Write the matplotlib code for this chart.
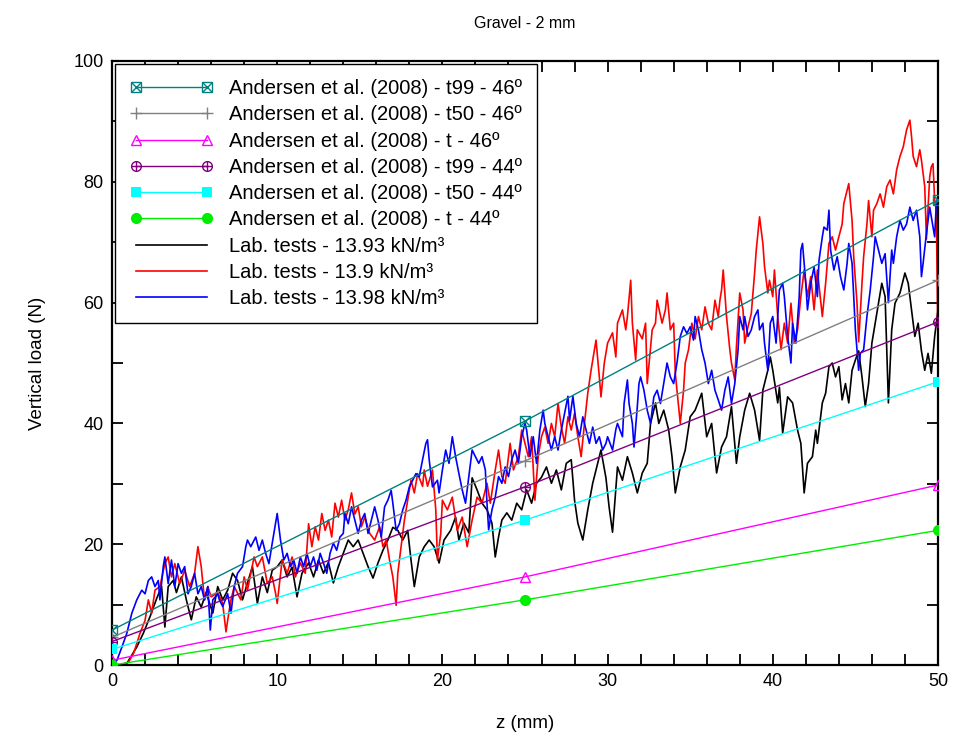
import matplotlib
matplotlib.use("Agg")
import matplotlib.pyplot as plt
from matplotlib.ticker import MultipleLocator
from matplotlib.legend_handler import HandlerTuple

plt.rcParams['font.family'] = ['Liberation Sans', 'DejaVu Sans']

# Andersen et al. (2008) curves, values at z = 0, 25, 50 mm
z_model = [0, 25, 50]
t99_46 = [5.8, 40.4, 77.0]
t50_46 = [4.6, 33.8, 63.7]
t_46 = [0.8, 14.6, 29.8]
t99_44 = [3.9, 29.5, 56.8]
t50_44 = [2.6, 24.0, 46.9]
t_44 = [0.0, 10.8, 22.3]

# Lab test - 13.93 kN/m3 (black)
z_black = [0, 0.5, 0.9, 1.5, 1.9, 2.3, 2.7, 3.0, 3.2, 3.4, 3.7, 3.9, 4.2, 4.5, 4.8, 5.1, 5.4, 5.7,
           6.1, 6.4, 6.7, 7.0, 7.3, 7.6, 7.9, 8.2, 8.5, 8.8, 9.1, 9.4, 9.7, 10.0,
           10.3, 10.6, 10.9, 11.2, 11.5, 11.9, 12.2, 12.5, 12.8, 13.1, 13.4, 13.7, 14.0, 14.3,
           14.6, 14.9, 15.2, 15.5, 15.8, 16.1, 16.4, 16.7, 17.0, 17.3, 17.6, 17.9, 18.1, 18.3,
           18.6, 18.9, 19.2, 19.5, 19.8, 20.1, 20.5, 20.8, 21.0, 21.3, 21.6, 21.8, 22.1, 22.4,
           22.7, 23.0, 23.2, 23.4, 23.6, 23.9, 24.2, 24.5, 24.8, 25.1, 25.4, 25.7, 26.0, 26.3,
           26.6, 26.9, 27.2, 27.5, 27.8, 28.0, 28.2, 28.5, 28.8, 29.1, 29.3, 29.6, 29.9, 30.1,
           30.3, 30.6, 30.9, 31.2, 31.5, 31.8, 32.1, 32.4, 32.6, 32.9, 33.1, 33.4, 33.7, 33.9,
           34.1, 34.4, 34.7, 35.0, 35.3, 35.7, 36.0, 36.3, 36.6, 36.9, 37.2, 37.5, 37.8, 38.0,
           38.3, 38.6, 38.9, 39.2, 39.4, 39.7, 39.85, 40.0, 40.3, 40.4, 40.6, 40.9, 41.2, 41.5,
           41.7, 41.9, 42.1, 42.4, 42.6, 42.7, 43.0, 43.2, 43.4, 43.6, 43.8, 44.0, 44.2, 44.4,
           44.6, 44.8, 45.0, 45.2, 45.4, 45.6, 45.8, 46.0, 46.2, 46.4, 46.6, 46.8, 47.0, 47.2,
           47.4, 47.7, 48.0, 48.2, 48.4, 48.6, 48.8, 49.0, 49.2, 49.4, 49.6, 49.8, 50.0]
f_black = [0, 0, 0.3, 3, 5.3, 8, 11, 13, 6.3, 13, 14, 12, 14.6, 10.8, 7.5, 11.3, 9.6, 12,
           8.6, 13, 10.8, 12.4, 15.2, 14, 10.8, 13.6, 16.3, 10.2, 14.6, 12, 15.7, 16.3,
           17.4, 14.6, 16.2, 11.3, 15.2, 16.9, 14.6, 17.4, 15.2, 17, 13.6, 16.3, 18.5, 20.7,
           19.6, 20.7, 18.5, 16.3, 14.4, 16.9, 19, 20.7, 22.8, 22.3, 20.7, 22.3, 17.4, 13,
           17.9, 19.6, 20.7, 19.6, 16.9, 20.7, 22.3, 24.5, 20.7, 23.5, 21.9, 31, 29, 26.8,
           25.7, 23.5, 17.9, 21.2, 24, 25.2, 24, 26.8, 25.7, 29, 26.8, 30.1, 31.1, 32.8,
           30.1, 32.3, 29, 33.4, 34, 27.3, 23.5, 20.7, 25.7, 30.1, 32.3, 35.6, 31, 26,
           22, 32.8, 30.6, 34.5, 31.8, 28.5, 31.8, 33.4, 40, 43.4, 40, 42.2, 38.9, 34.5,
           28.5, 32.8, 35.6, 41.1, 42.2, 45, 37.8, 40, 31.8, 36.1, 37.8, 42.8, 33.4, 37.8,
           42.2, 45, 42.2, 37.2, 45.5, 48.8, 51, 48.8, 43.4, 46, 38.4, 44.4, 43.4, 38.9,
           36.7, 28.5, 33.4, 34.5, 38.9, 36.7, 43.4, 45, 49.4, 50, 47.7, 49.4, 43.9, 46.6,
           43.4, 48.8, 50.5, 52, 47.7, 42.8, 46.6, 53.3, 56.6, 59.9, 63.2, 61, 43.4, 55.5,
           59.9, 61.6, 64.9, 63.2, 58.8, 54.4, 56.6, 52, 48.8, 51.6, 48.3, 54.4, 58.8]

# Lab test - 13.9 kN/m3 (red)
z_red = [0, 0.5, 1.0, 1.3, 1.7, 2.0, 2.2, 2.4, 2.6, 2.9, 3.2, 3.4, 3.6, 3.8, 4.1, 4.4, 4.7, 5.0,
         5.2, 5.4, 5.6, 5.8, 6.0, 6.4, 6.7, 6.9, 7.0, 7.2, 7.4, 7.8, 8.0, 8.2, 8.6, 8.8, 9.1,
         9.4, 9.7, 9.9, 10.0, 10.3, 10.6, 10.9, 11.1, 11.4, 11.7, 11.9, 12.1, 12.3, 12.5, 12.7,
         12.9, 13.1, 13.3, 13.5, 13.7, 13.9, 14.1, 14.3, 14.5, 14.7, 14.9, 15.1, 15.3, 15.6,
         15.9, 16.2, 16.4, 16.6, 16.8, 17.0, 17.2, 17.3, 17.5, 17.7, 17.9, 18.1, 18.3, 18.5,
         18.8, 18.9, 19.1, 19.4, 19.6, 19.7, 19.9, 20.0, 20.3, 20.6, 20.9, 21.2, 21.5, 21.8,
         22.1, 22.4, 22.7, 22.9, 23.2, 23.4, 23.6, 23.8, 24.1, 24.3, 24.6, 24.8, 25.0, 25.2,
         25.4, 25.6, 25.8, 26.0, 26.2, 26.4, 26.6, 26.8, 27.0, 27.2, 27.4, 27.6, 27.8, 28.0,
         28.2, 28.4, 28.6, 28.8, 29.0, 29.2, 29.3, 29.5, 29.6, 29.8, 30.0, 30.3, 30.5, 30.6,
         30.9, 31.1, 31.2, 31.4, 31.5, 31.7, 31.8, 32.1, 32.3, 32.4, 32.7, 32.9, 33.0, 33.3,
         33.5, 33.6, 33.8, 34.0, 34.1, 34.3, 34.4, 34.6, 34.7, 34.9, 35.1, 35.3, 35.5, 35.7,
         35.9, 36.1, 36.3, 36.5, 36.7, 36.8, 36.9, 37.0, 37.2, 37.4, 37.5, 37.7, 37.8, 38.0,
         38.2, 38.3, 38.5, 38.7, 38.9, 39.0, 39.2, 39.4, 39.5, 39.7, 39.8, 40.0, 40.1, 40.3,
         40.5, 40.7, 40.9, 41.1, 41.3, 41.5, 41.7, 41.9, 42.1, 42.3, 42.5, 42.7, 43.0, 43.2,
         43.4, 43.6, 43.8, 44.0, 44.2, 44.3, 44.5, 44.6, 44.8, 44.9, 45.1, 45.2, 45.4, 45.5,
         45.7, 45.8, 46.0, 46.1, 46.3, 46.5, 46.7, 46.9, 47.1, 47.3, 47.5, 47.7, 47.9, 48.1,
         48.3, 48.4, 48.5, 48.7, 48.9, 49.0, 49.2, 49.3, 49.5, 49.6, 49.7, 49.8, 49.9, 50.0]
f_red = [0, 0, 0.5, 1.9, 5.3, 7.4, 10.8, 8.6, 12.4, 13, 16.8, 17.9, 14.6, 16.8, 13.5, 15.7, 13, 15.2,
         19.6, 16.3, 10.8, 13, 11.3, 12, 10.2, 5.5, 7.4, 10.8, 13, 10.8, 14.6, 12.4, 17.9, 16.3, 17.9,
         13.5, 14.6, 11.9, 10.2, 17.4, 15.2, 17.9, 14.6, 16.9, 15.2, 23.4, 19.6, 22.9, 20.7, 25.1,
         22.3, 24, 21.2, 26.8, 24.5, 27.3, 24, 25.7, 28.5, 25, 26.2, 22.9, 24.5, 21.8,
         20.7, 22.9, 19.6, 20.7, 17.4, 14.6, 9.9, 15.2, 19.6, 24, 27.3, 30.6, 28.5, 31.7,
         29.6, 32.3, 29.6, 32.3, 25.7, 17.4, 21.8, 27.3, 25.7, 27.8, 22.3, 24.5, 19.6, 24,
         27.8, 26.8, 30.1, 26.8, 32.3, 35.6, 31.2, 30.1, 36.7, 32.3, 34.5, 38.9, 36.7, 34.5,
         37.8, 27.3, 34.5, 37.8, 39.4, 36.7, 40, 37.8, 43.3, 39.4, 36.7, 41.1, 38.9, 41.7,
         37.8, 34.5, 40, 45, 48.8, 52.2, 53.8, 47.7, 44.4, 50, 53.3, 55, 51, 56.6,
         58.8, 55.5, 57.7, 63.7, 56.6, 50.5, 55.5, 54, 56.6, 46.6, 55.5, 56.6, 60.4, 56.6,
         58.8, 61.6, 55.5, 56.6, 48.3, 42.8, 40, 45.5, 50, 52.2, 56.6, 54, 57.7, 55.5,
         59.3, 56.6, 55.5, 60.4, 57.7, 60.4, 62.1, 65.4, 57.7, 52.2, 50, 47.2, 52.7, 61.6,
         58.8, 53.3, 56, 58.2, 64.9, 68.7, 74.2, 69.8, 66, 61.6, 63.7, 61, 65.4, 57.7,
         52.2, 56.6, 53.3, 59.9, 53.3, 55.5, 61, 65.4, 61, 64.3, 58.8, 65.4, 57.7, 63.2,
         69.8, 70.9, 68.7, 70.9, 73, 76.4, 78.6, 79.7, 73.6, 67.6, 59.9, 53.5, 63.2, 67.6,
         73, 76.9, 70.9, 75.3, 76.4, 78, 75.8, 79.2, 80.3, 78, 82, 84.2, 85.8, 88.6,
         90.2, 87.5, 84.2, 82.5, 85.3, 83.6, 79.2, 70.5, 80.8, 82.5, 83, 76.9, 75.3, 53]

# Lab test - 13.98 kN/m3 (blue)
z_blue = [0, 0.3, 0.6, 0.9, 1.2, 1.5, 1.8, 2.0, 2.2, 2.4, 2.6, 2.8, 2.9, 3.1, 3.2, 3.4, 3.6, 3.8,
          4.0, 4.2, 4.4, 4.6, 4.8, 5.0, 5.2, 5.4, 5.6, 5.8, 5.95, 6.1, 6.4, 6.5, 6.7, 7.0, 7.2,
          7.4, 7.6, 7.9, 8.1, 8.2, 8.4, 8.7, 8.9, 9.1, 9.3, 9.5, 9.7, 9.9, 10.0, 10.2, 10.4,
          10.6, 10.8, 11.0, 11.2, 11.4, 11.6, 11.8, 12.0, 12.2, 12.4, 12.6, 12.8, 13.0, 13.2,
          13.4, 13.6, 13.8, 14.0, 14.1, 14.3, 14.5, 14.7, 14.9, 15.1, 15.3, 15.5, 15.7, 15.9,
          16.1, 16.3, 16.5, 16.7, 16.9, 17.0, 17.2, 17.4, 17.6, 17.8, 18.0, 18.2, 18.4, 18.6,
          18.8, 19.0, 19.1, 19.2, 19.4, 19.7, 19.8, 20.0, 20.2, 20.4, 20.6, 20.8, 21.0, 21.2,
          21.4, 21.6, 21.8, 22.0, 22.2, 22.4, 22.6, 22.7, 22.8, 23.0, 23.2, 23.4, 23.6, 23.8,
          24.0, 24.2, 24.4, 24.6, 24.8, 25.0, 25.1, 25.3, 25.5, 25.7, 25.9, 26.1, 26.2, 26.4,
          26.6, 26.8, 27.0, 27.2, 27.4, 27.6, 27.7, 27.9, 28.1, 28.3, 28.5, 28.7, 28.9, 29.1,
          29.3, 29.5, 29.7, 29.9, 30.0, 30.3, 30.5, 30.6, 30.9, 31.0, 31.2, 31.3, 31.5, 31.6,
          31.8, 31.9, 32.0, 32.2, 32.4, 32.6, 32.8, 33.0, 33.2, 33.4, 33.6, 33.8, 34.0, 34.2,
          34.4, 34.6, 34.8, 35.0, 35.2, 35.3, 35.5, 35.7, 35.9, 36.1, 36.3, 36.5, 36.7, 36.9,
          37.1, 37.3, 37.5, 37.7, 37.9, 38.0, 38.2, 38.3, 38.5, 38.7, 38.9, 39.1, 39.2, 39.4,
          39.5, 39.7, 39.85, 40.0, 40.2, 40.4, 40.6, 40.7, 40.9, 41.1, 41.2, 41.4, 41.6, 41.7,
          41.8, 42.0, 42.1, 42.3, 42.5, 42.7, 42.8, 43.0, 43.1, 43.3, 43.4, 43.5, 43.7, 43.9,
          44.1, 44.3, 44.5, 44.6, 44.8, 44.9, 45.0, 45.1, 45.2, 45.3, 45.5, 45.7, 45.9, 46.1,
          46.2, 46.4, 46.6, 46.8, 47.0, 47.2, 47.3, 47.5, 47.7, 47.9, 48.1, 48.3, 48.5, 48.7,
          48.9, 49.0, 49.1, 49.3, 49.5, 49.6, 49.8, 49.9, 50.0]
f_blue = [0, 0.8, 3, 5.3, 8.6, 10.8, 12.4, 11.8, 14, 14.6, 13, 14, 10.8, 16.3, 17.9, 13.5, 17.4, 13,
          16.8, 15.2, 16.3, 11.8, 13, 15.2, 11.8, 13, 10.8, 13, 5.8, 10.8, 11.8, 10.8, 9.7, 11.8, 8.6,
          13, 15.2, 16.3, 19.6, 20.7, 19.6, 21.2, 19, 20.7, 18.5, 16.8, 20.2, 23.4, 25.1, 20.7, 17.4,
          18.5, 16.3, 17.4, 15.2, 17.9, 16.3, 18.5, 16.3, 17.9, 15.7, 18.5, 16.9, 15.2, 18.5,
          20.2, 19, 21.2, 21.8, 25.1, 23.4, 26.2, 24, 21.8, 24, 25.1, 21.8, 24, 26.2,
          24, 21.2, 26.2, 27.3, 28.9, 26.8, 22.3, 23.4, 25.7, 27.3, 29.5, 30.6, 31.7, 31.2,
          34, 36.7, 37.3, 34, 29.5, 30.6, 28.5, 32.3, 35.6, 33.4, 37.8, 34.5, 31.7, 29,
          26.8, 31.2, 35.6, 34.5, 33.4, 34.5, 32.3, 26.8, 22.4, 25.7, 27.8, 31.2, 30.1, 32.8,
          31.2, 34, 35.6, 33.4, 37.8, 40, 38.9, 34.5, 37.8, 33.4, 38.9, 42.2, 40, 37.8,
          35.6, 37.8, 35.6, 38.9, 41.7, 44.5, 40.5, 44.5, 40, 37.8, 41.1, 38.9, 36.7, 39.4,
          36.7, 37.8, 35.6, 36.7, 37.8, 35.6, 39, 40, 37.8, 43.3, 47.2, 43.3, 40, 36.1,
          42.8, 46.6, 47.7, 45.5, 42.2, 40, 44.4, 45.5, 43.3, 46.6, 50, 47.7, 46.6, 50,
          54.4, 56, 54.9, 56, 53.8, 57.7, 55.5, 52.2, 50, 46.6, 48.8, 45.5, 43.9, 42.2,
          45.5, 47.7, 43.3, 46.6, 52.2, 57.7, 55.5, 57.7, 54.4, 55.5, 57.7, 58.8, 55.5, 56.6,
          53.3, 48.8, 56.6, 57.7, 53.3, 62.1, 63.2, 61, 54.4, 50, 56.6, 53.3, 61, 68.7,
          69.8, 63.2, 58.8, 63.2, 65.9, 61, 67, 70.9, 72.5, 72, 75.3, 68.7, 65.4, 67.6,
          64.3, 62.1, 66.5, 69.8, 66.5, 61, 55.5, 52.2, 48.8, 51.6, 52.2, 57.7, 62.1, 67.6,
          70.9, 68.7, 66.5, 68.1, 60, 68.7, 66.5, 70.9, 73.6, 72, 73, 75.8, 73.6, 75.3,
          70.9, 64.3, 66.5, 71.4, 75.8, 74.2, 70.9, 76.4, 77.5]

fig = plt.figure(figsize=(9.74, 7.39), dpi=100)
ax = fig.add_axes([0.115, 0.100, 0.848, 0.8175])

# lab tests
l_black, = ax.plot(z_black, f_black, color='black', lw=1.2, zorder=2)
l_red, = ax.plot(z_red, f_red, color='red', lw=1.2, zorder=2)
l_blue, = ax.plot(z_blue, f_blue, color='blue', lw=1.2, zorder=2)

# Andersen et al. lines
ms = 7
a1, = ax.plot(z_model, t99_46, color='#008080', lw=1, marker='s', ms=ms, mfc='none', mew=1, zorder=3)
a1x, = ax.plot(z_model, t99_46, color='#008080', lw=0, marker='x', ms=ms, mew=1, zorder=3)
a2, = ax.plot(z_model, t50_46, color='#808080', lw=1, marker='+', ms=9, mew=1, zorder=3)
a3, = ax.plot(z_model, t_46, color='#FF00FF', lw=1, marker='^', ms=ms, mfc='none', mew=1, zorder=3)
a4, = ax.plot(z_model, t99_44, color='#800080', lw=1, marker='o', ms=ms, mfc='none', mew=1, zorder=3)
a4x, = ax.plot(z_model, t99_44, color='#800080', lw=0, marker='+', ms=ms, mew=1, zorder=3)
a5, = ax.plot(z_model, t50_44, color='#00FFFF', lw=1, marker='s', ms=ms, mew=0, zorder=3)
a6, = ax.plot(z_model, t_44, color='#00EE00', lw=1, marker='o', ms=ms + 1, mew=0, zorder=3)

ax.set_xlim(0, 50)
ax.set_ylim(0, 100)
ax.xaxis.set_major_locator(MultipleLocator(10))
ax.xaxis.set_minor_locator(MultipleLocator(2))
ax.yaxis.set_major_locator(MultipleLocator(20))
ax.yaxis.set_minor_locator(MultipleLocator(10))
ax.tick_params(which='both', direction='in', top=True, right=True, length=8, width=1.3)
ax.tick_params(labelsize=13, pad=6)
for s in ax.spines.values():
    s.set_linewidth(1.6)

ax.set_xlabel('z (mm)', fontsize=13.5, labelpad=18)
ax.set_ylabel('Vertical load (N)', fontsize=13.5, labelpad=20)
ax.set_title('Gravel - 2 mm', fontsize=11.5, pad=24)

handles = [(a1, a1x), a2, a3, (a4, a4x), a5, a6, l_black, l_red, l_blue]
labels = ['Andersen et al. (2008) - t99 - 46º',
          'Andersen et al. (2008) - t50 - 46º',
          'Andersen et al. (2008) - t - 46º',
          'Andersen et al. (2008) - t99 - 44º',
          'Andersen et al. (2008) - t50 - 44º',
          'Andersen et al. (2008) - t - 44º',
          'Lab. tests - 13.93 kN/m³',
          'Lab. tests - 13.9 kN/m³',
          'Lab. tests - 13.98 kN/m³']
leg = ax.legend(handles, labels, loc='upper left', fontsize=14.5, numpoints=2,
                handlelength=4.1, handletextpad=0.8, labelspacing=0.36,
                borderaxespad=0.15, borderpad=0.75, fancybox=False, framealpha=1,
                edgecolor='black', handler_map={tuple: HandlerTuple(ndivide=1)})
leg.get_frame().set_linewidth(1.0)

fig.savefig('out.png', dpi=100)
